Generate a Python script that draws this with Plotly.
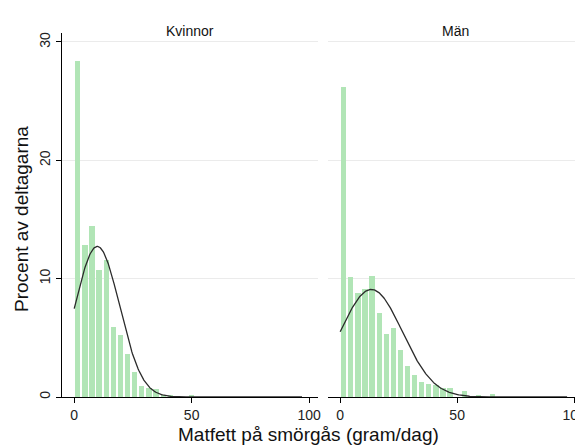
import numpy as np
import plotly.graph_objects as go

# ---- data ----
panels = ["Kvinnor", "Män"]
bin_width = 100 / 33
kvinnor_pct = [28.4, 12.85, 14.45, 10.75, 11.6, 5.95, 5.25, 3.6, 2.1, 0.95,
               0.72, 0.68, 0.14, 0.14, 0.0, 0.0, 0.17]
man_pct = [26.2, 10.15, 8.82, 9.13, 10.25, 7.12, 5.32, 5.83, 3.93, 2.62,
           1.9, 1.28, 1.13, 0.99, 0.8, 0.79, 0.0, 0.5, 0.0, 0.12, 0.0, 0.28]
kvinnor_mean, kvinnor_sd = 9.8, 9.5
man_mean, man_sd = 13.3, 13.3
curve_min, curve_max = 0, 97
x_ticks = [0, 50, 100]
y_ticks = [0, 10, 20, 30]

bar_color = "#b1e5b6"
line_color = "#2b2b2b"
font = "Liberation Sans, Arial, sans-serif"

fig = go.Figure()

def add_panel(pct, mean, sd, xa, ya):
    centers = [(i + 0.5) * bin_width for i in range(len(pct))]
    fig.add_trace(go.Bar(x=centers, y=pct, width=bin_width * 0.75,
                         marker=dict(color=bar_color, line=dict(width=0)),
                         xaxis=xa, yaxis=ya, showlegend=False))
    xs = np.linspace(curve_min, curve_max, 400)
    ys = 100 * bin_width * np.exp(-0.5 * ((xs - mean) / sd) ** 2) / (sd * np.sqrt(2 * np.pi))
    fig.add_trace(go.Scatter(x=xs, y=ys, mode="lines",
                             line=dict(color=line_color, width=1.3),
                             xaxis=xa, yaxis=ya, showlegend=False))

add_panel(kvinnor_pct, kvinnor_mean, kvinnor_sd, "x", "y")
add_panel(man_pct, man_mean, man_sd, "x2", "y2")

# page body has an 8px margin, so the figure is shrunk by 8px
W, H = 575, 437
ml, mr, mt, mb = 54, 0, 25, 48
pw = W - ml - mr
split1 = 256 / pw
split2 = 266 / pw

xcommon = dict(range=[-5.2, 103.8], tickvals=x_ticks, ticks="outside", ticklen=5,
               tickcolor="#000", showline=True, linecolor="#000", linewidth=1,
               showgrid=False, zeroline=False, fixedrange=True,
               ticklabeloverflow="allow",
               tickfont=dict(family=font, size=14, color="#222"), automargin=False)
ycommon = dict(range=[0, 30.76], tickvals=y_ticks, showgrid=True, gridcolor="#ebebeb",
               gridwidth=1, zeroline=False, automargin=False)

fig.update_layout(
    width=W, height=H,
    margin=dict(l=ml, r=mr, t=mt, b=mb),
    paper_bgcolor="white", plot_bgcolor="white",
    bargap=0,
    xaxis=dict(domain=[0, split1], anchor="y", **xcommon),
    xaxis2=dict(domain=[split2, 1], anchor="y2", **xcommon),
    yaxis=dict(domain=[0, 1], anchor="x", showline=True, linecolor="#000", linewidth=1,
               ticks="outside", ticklen=5, tickcolor="#000", tickangle=-90,
               tickfont=dict(family=font, size=14, color="#222"), **ycommon),
    yaxis2=dict(domain=[0, 1], anchor="x2", showline=False, showticklabels=False,
                ticks="", **ycommon),
    annotations=[
        dict(text=panels[0], x=split1 / 2, y=1, xref="paper", yref="paper",
             xanchor="center", yanchor="middle", yshift=2, showarrow=False,
             font=dict(family=font, size=14, color="#111")),
        dict(text=panels[1], x=(split2 + 1) / 2, y=1, xref="paper", yref="paper",
             xanchor="center", yanchor="middle", yshift=2, showarrow=False,
             font=dict(family=font, size=14, color="#111")),
        dict(text="Matfett på smörgås (gram/dag)", x=0.4735, y=0, xref="paper", yref="paper",
             xanchor="center", yanchor="middle", yshift=-37, showarrow=False,
             font=dict(family=font, size=19, color="#111")),
        dict(text="Procent av deltagarna", x=0, y=0.489, xref="paper", yref="paper",
             xanchor="center", yanchor="middle", xshift=-41, textangle=-90, showarrow=False,
             font=dict(family=font, size=19, color="#111")),
    ],
)

fig.write_html("out.html")
